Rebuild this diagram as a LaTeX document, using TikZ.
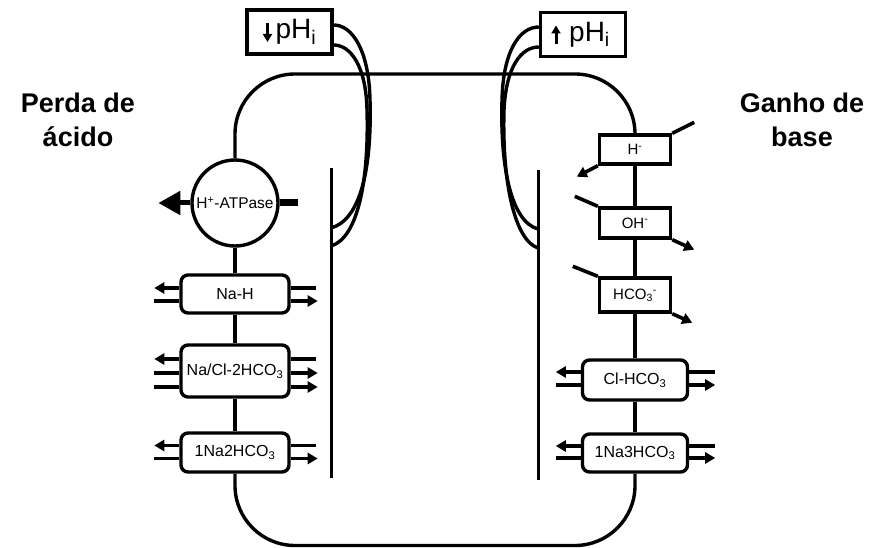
\documentclass[tikz,border=0pt]{standalone}
\usepackage{fontspec}
\setmainfont{Liberation Sans}
\usetikzlibrary{arrows.meta}
\begin{document}
\begin{tikzpicture}[x=1pt,y=-1pt,line width=3.4pt,
  rbox/.style={draw,fill=white,rounded corners=7pt,minimum width=108pt,inner sep=0pt,font=\fontsize{16}{18}\selectfont},
  sbox/.style={draw,fill=white,minimum width=71pt,inner sep=0pt,font=\fontsize{15}{17}\selectfont},
  phbox/.style={draw,fill=white,minimum width=85pt,minimum height=44pt,inner sep=0pt,font=\fontsize{28}{30}\selectfont},
  title/.style={font=\bfseries\fontsize{27}{34}\selectfont,align=center},
  tip/.style={-{Triangle[length=10pt,width=11pt]}},
  stub/.style={line width=3.6pt},
  membrane/.style={line width=3pt},
  phtip/.style={line width=3pt,-{Triangle[length=8pt,width=9pt]}}]
\useasboundingbox (0,0) rectangle (875,548);

% titles
\node[title] (perda) at (78,120) {Perda de\\ácido};
\node[title] (ganho) at (802,120) {Ganho de\\base};

% pH boxes
\node[phbox] (phl) at (289.5,32) {\hspace*{13pt}pH\textsubscript{i}};
\draw[phtip] ([xshift=-22pt,yshift=9pt]phl.center) -- ++(0pt,-19pt);
\node[phbox] (phr) at (583,34.5) {\hspace*{13pt}pH\textsubscript{i}};
\draw[phtip] ([xshift=-27pt,yshift=-10pt]phr.center) -- ++(0pt,19pt);

% left column
\node[circle,draw,fill=white,minimum size=86pt,inner sep=0pt,font=\fontsize{15.5}{17}\selectfont] (atp) at (235,203) {H\textsuperscript{+}-ATPase};
\node[rbox,minimum height=38pt] (nah) at (235,294) {Na-H};
\node[rbox,minimum height=52pt] (nacl) at (235,371) {Na/Cl-2HCO\textsubscript{3}};
\node[rbox,minimum height=39pt] (na2) at (235,452.5) {1Na2HCO\textsubscript{3}};

% right column
\node[sbox,minimum height=29pt] (hm) at (635,149.5) {H\textsuperscript{-}};
\node[sbox,minimum height=30pt] (oh) at (635,223) {OH\textsuperscript{-}};
\node[sbox,minimum height=34pt] (hco) at (635,295) {HCO\textsubscript{3}\textsuperscript{-}};
\node[rbox,minimum width=105pt,minimum height=40pt] (clh) at (635,380) {Cl-HCO\textsubscript{3}};
\node[rbox,minimum width=105pt,minimum height=38pt] (na3) at (635,453) {1Na3HCO\textsubscript{3}};

% outer loop
\draw[rounded corners=60pt] (atp.north) -- (atp.north |- 0,74) -- (hm.north |- 0,74) -- (hm.north);
\draw[rounded corners=60pt] (na2.south) -- (na2.south |- 0,545.5) -- (na3.south |- 0,545.5) -- (na3.south);
\draw (atp.south) -- (nah.north);
\draw (nah.south) -- (nacl.north);
\draw (nacl.south) -- (na2.north);
\draw (hm.south) -- (oh.north);
\draw (oh.south) -- (hco.north);
\draw (hco.south) -- (clh.north);
\draw (clh.south) -- (na3.north);

% membranes
\draw[membrane] (331,168) coordinate (mlt) -- (331,478) coordinate (mlb);
\draw[membrane] (538,170) coordinate (mrt) -- (538,480) coordinate (mrb);
\coordinate (ml1) at (331,228);
\coordinate (ml2) at (331,246);
\coordinate (mr1) at (538,229);
\coordinate (mr2) at (538,248);

% pH curves
\draw ([yshift=7pt]phl.east) .. controls (352,25) and (369,50) .. (370,100) .. controls (372,170) and (360,220) .. (ml1);
\draw ([yshift=-13pt]phl.east) .. controls (350,45) and (366,65) .. (367,110) .. controls (369,180) and (358,238) .. (ml2);
\draw ([yshift=7.5pt]phr.west) .. controls (519,27) and (503,52) .. (502,100) .. controls (500,170) and (512,222) .. (mr1);
\draw ([yshift=-12.5pt]phr.west) .. controls (521,47) and (506,67) .. (504,110) .. controls (502,180) and (514,240) .. (mr2);

% ATPase
\draw[line width=5pt,-{Triangle[length=22pt,width=23pt]}] (atp.west) -- ++(-32pt,0pt);
\draw[line width=7pt] (atp.east) -- ++(18pt,0pt);

% left stubs
\draw[stub,tip] ([yshift=6pt]nah.west) -- ++(-25pt,0pt);
\draw[stub] ([yshift=-7pt]nah.west) -- ++(-25pt,0pt);
\draw[stub] ([yshift=6pt]nah.east) -- ++(25pt,0pt);
\draw[stub,tip] ([yshift=-7pt]nah.east) -- ++(27pt,0pt);

\draw[stub,tip] ([yshift=12pt]nacl.west) -- ++(-25pt,0pt);
\draw[stub] ([yshift=-2pt]nacl.west) -- ++(-25pt,0pt);
\draw[stub] ([yshift=-16pt]nacl.west) -- ++(-25pt,0pt);
\draw[stub] ([yshift=12pt]nacl.east) -- ++(25pt,0pt);
\draw[stub,tip] ([yshift=-2pt]nacl.east) -- ++(27pt,0pt);
\draw[stub,tip] ([yshift=-16pt]nacl.east) -- ++(27pt,0pt);

\draw[stub,tip] ([yshift=7pt]na2.west) -- ++(-25pt,0pt);
\draw[stub] ([yshift=-6pt]na2.west) -- ++(-25pt,0pt);
\draw[stub] ([yshift=7pt]na2.east) -- ++(25pt,0pt);
\draw[stub,tip] ([yshift=-6pt]na2.east) -- ++(27pt,0pt);

% right stubs
\draw[stub,tip] ([yshift=8pt]clh.west) -- ++(-25pt,0pt);
\draw[stub] ([yshift=-5pt]clh.west) -- ++(-25pt,0pt);
\draw[stub] ([yshift=8pt]clh.east) -- ++(26pt,0pt);
\draw[stub,tip] ([yshift=-5pt]clh.east) -- ++(26pt,0pt);

\draw[stub,tip] ([yshift=7pt]na3.west) -- ++(-25pt,0pt);
\draw[stub] ([yshift=-5pt]na3.west) -- ++(-25pt,0pt);
\draw[stub] ([yshift=7pt]na3.east) -- ++(26pt,0pt);
\draw[stub,tip] ([yshift=-5pt]na3.east) -- ++(26pt,0pt);

% diagonal stubs
\draw[stub] (hm.north east) -- ++(22pt,11pt);
\draw[stub,tip] (hm.south west) -- ++(-21pt,-11pt);
\draw[stub] (oh.north west) -- ++(-23pt,10pt);
\draw[stub,tip] (oh.south east) -- ++(22pt,-10pt);
\draw[stub] (hco.north west) -- ++(-25pt,10pt);
\draw[stub,tip] (hco.south east) -- ++(20pt,-9pt);
\end{tikzpicture}
\end{document}
